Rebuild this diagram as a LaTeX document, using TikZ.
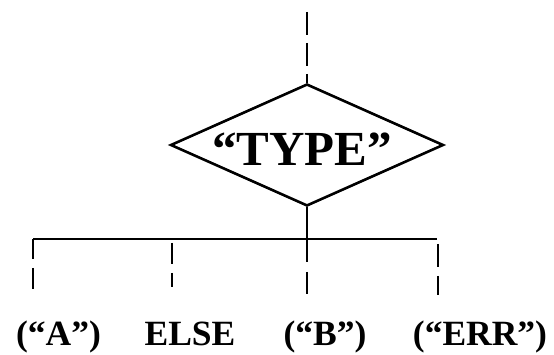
\documentclass[tikz,border=0pt]{standalone}
\usepackage{fontspec}
\setmainfont{Liberation Serif}
\usetikzlibrary{shapes.geometric}
\begin{document}
\begin{tikzpicture}[x=1pt,y=-1pt,
  ln/.style={line width=2.6pt,line cap=butt},
  dia/.style={diamond,draw,line width=2.6pt,inner sep=0pt,aspect=2.24,
    minimum width=273pt,minimum height=122pt},
  lbl/.style={anchor=base,inner sep=0pt,font=\fontsize{35.5}{37}\selectfont\bfseries}]
\useasboundingbox (0,0) rectangle (554,355);
\node[dia] (type) at (307,145) {};
\node[inner sep=0pt,font=\fontsize{49}{51}\selectfont\bfseries] (typetext) at (302,149) {“TYPE”};
% top dashed entry
\coordinate (top) at (307,12);
\draw[ln,dash pattern=on 23pt off 8pt] (top) -- (type.north);
% junction
\coordinate (j) at (307,239);
\coordinate (hl) at (33,239);
\coordinate (hr) at (437,239);
\draw[ln] (type.south) -- (j);
\draw[ln] (hl) -- (hr);
% branch A
\coordinate (a1) at (33,259);
\coordinate (a2) at (33,268);
\coordinate (a3) at (33,289);
\draw[ln] (hl) -- (a1);
\draw[ln] (a2) -- (a3);
% branch ELSE
\coordinate (e0) at (172,243);
\coordinate (e1) at (172,264);
\coordinate (e2) at (172,273);
\coordinate (e3) at (172,287);
\draw[ln] (e0) -- (e1);
\draw[ln] (e2) -- (e3);
% branch B
\coordinate (b1) at (307,262);
\coordinate (b2) at (307,272);
\coordinate (b3) at (307,294);
\draw[ln] (j) -- (b1);
\draw[ln] (b2) -- (b3);
% branch ERR
\coordinate (r0) at (438,244);
\coordinate (r1) at (438,267);
\coordinate (r2) at (438,276);
\coordinate (r3) at (438,295);
\draw[ln] (r0) -- (r1);
\draw[ln] (r2) -- (r3);
% labels
\node[lbl] (la) at (58.5,345) {(“A”)};
\node[lbl] (le) at (190,345) {ELSE};
\node[lbl] (lb) at (325,345) {(“B”)};
\node[lbl] (lr) at (480,345) {(“ERR”)};
\end{tikzpicture}
\end{document}
